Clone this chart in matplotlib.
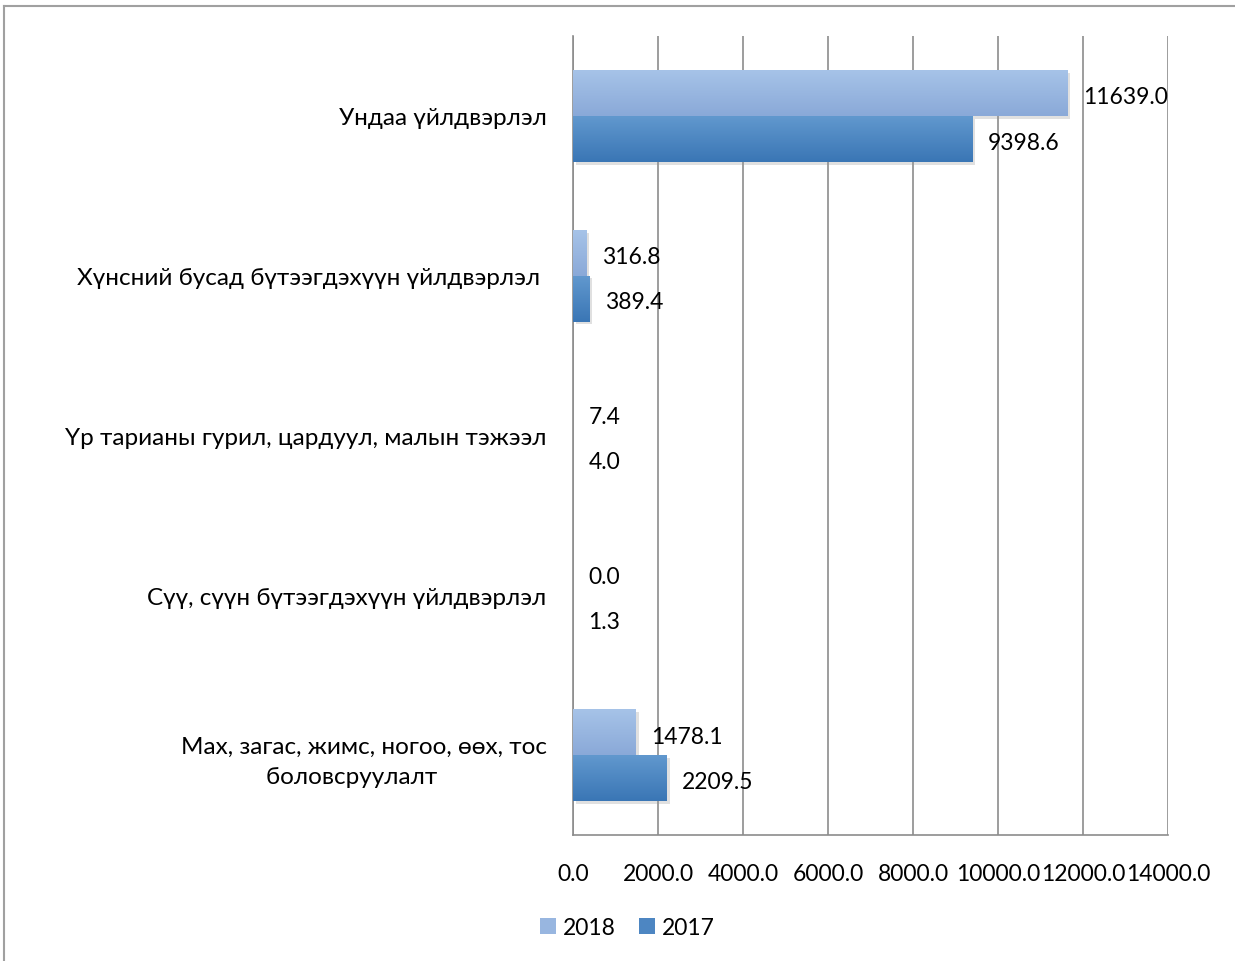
import numpy as np
import matplotlib
matplotlib.use("Agg")
import matplotlib.pyplot as plt
import matplotlib.patheffects as pe
from matplotlib.lines import Line2D
from matplotlib.patches import Patch

plt.rcParams['font.family'] = ['Lato', 'Noto Sans', 'DejaVu Sans']

# Data (bottom to top)
categories = ['Мах, загас, жимс, ногоо, өөх, тос\nболовсруулалт    ',
              'Сүү, сүүн бүтээгдэхүүн үйлдвэрлэл',
              'Үр тарианы гурил, цардуул, малын тэжээл',
              'Хүнсний бусад бүтээгдэхүүн үйлдвэрлэл ',
              'Ундаа үйлдвэрлэл']
values_2018 = [1478.1, 0.0, 7.4, 316.8, 11639.0]
values_2017 = [2209.5, 1.3, 4.0, 389.4, 9398.6]
x_ticks = [0, 2000, 4000, 6000, 8000, 10000, 12000, 14000]

FS = 16.5

fig = plt.figure(figsize=(12.35, 9.62), dpi=100)
ax = fig.add_axes([0.464, 0.131, 0.4817, 0.8305])

pos = np.arange(len(categories))
h = 0.2875
bars18 = ax.barh(pos + h / 2, values_2018, height=h, color='#98B6E0', zorder=2)
bars17 = ax.barh(pos - h / 2, values_2017, height=h, color='#4D86C2', zorder=2)

# gradient fill + soft shadow, like the office chart style
def shade(bars, top, bottom):
    grad = np.linspace(0, 1, 64).reshape(-1, 1)
    c_top = np.array(matplotlib.colors.to_rgb(top))
    c_bot = np.array(matplotlib.colors.to_rgb(bottom))
    img = c_top + (c_bot - c_top) * grad[:, :, None]
    for b in bars:
        if b.get_width() < 50:
            b.set_visible(False)
            continue
        b.set_path_effects([pe.SimplePatchShadow(offset=(2, -2), shadow_rgbFace='#9a9a9a', alpha=0.3),
                            pe.Normal()])
        x0, y0 = b.get_x(), b.get_y()
        ax.imshow(img, extent=(x0, x0 + b.get_width(), y0, y0 + b.get_height()),
                  origin='upper', aspect='auto', zorder=3)

shade(bars18, '#A6C3E8', '#8AA9D8')
shade(bars17, '#6198CE', '#3A76B5')

for b, v in zip(bars18, values_2018):
    ax.annotate('%.1f' % v, (v, b.get_y() + b.get_height() / 2 - 0.025), xytext=(11, 0),
                textcoords='offset points', va='center', ha='left', fontsize=FS, zorder=4)
for b, v in zip(bars17, values_2017):
    ax.annotate('%.1f' % v, (v, b.get_y() + b.get_height() / 2 - 0.02), xytext=(11, 0),
                textcoords='offset points', va='center', ha='left', fontsize=FS, zorder=4)

ax.set_xlim(0, 14000)
ax.set_ylim(-0.5, 4.5)
ax.set_xticks(x_ticks)
ax.set_xticklabels(['%.1f' % t for t in x_ticks], fontsize=FS)
ax.set_yticks(pos)
ax.set_yticklabels(categories, fontsize=17.5, multialignment='center')
for t in ax.get_yticklabels():
    t.set_linespacing(1.55)
ax.tick_params(axis='x', length=0, pad=20)
ax.tick_params(axis='y', length=0, pad=19)
ax.grid(axis='x', color='#8C8C8C', linewidth=1.2, zorder=0)
ax.set_axisbelow(True)
for s in ['top', 'right']:
    ax.spines[s].set_visible(False)
for s in ['left', 'bottom']:
    ax.spines[s].set_color('#8C8C8C')
    ax.spines[s].set_linewidth(1.2)

handles = [Patch(facecolor='#98B6E0'), Patch(facecolor='#4D86C2')]
fig.legend(handles, ['2018', '2017'], loc='center', bbox_to_anchor=(0.508, 0.035),
           ncol=2, frameon=False, fontsize=FS, handlelength=0.7, handleheight=0.7,
           handletextpad=0.3, columnspacing=1.0)

# outer chart border (top and left edges visible)
fig.add_artist(Line2D([0.0032, 1.0], [0.9927, 0.9927], color='#A0A0A0', lw=1.5))
fig.add_artist(Line2D([0.0032, 0.0032], [0.0, 0.9927], color='#A0A0A0', lw=1.5))

fig.savefig('out.png', dpi=100)
